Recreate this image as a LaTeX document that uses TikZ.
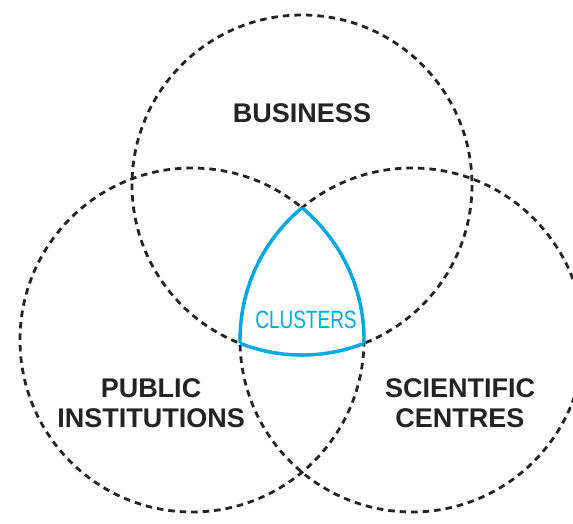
\documentclass[tikz,border=0pt]{standalone}
\usepackage{fontspec}
\setmainfont{Liberation Sans}
\newfontfamily\condfont[FakeStretch=0.76]{Liberation Sans}
\definecolor{clusterblue}{RGB}{0,170,230}
\definecolor{inkgrey}{RGB}{35,35,35}
\tikzset{
  vennline/.style={draw=inkgrey, line width=2.8pt, dash pattern=on 6.5pt off 5pt},
  clusterline/.style={draw=clusterblue, line width=3.4pt},
  biglabel/.style={font=\fontsize{27}{30}\selectfont\bfseries, text=inkgrey, align=center, anchor=base, inner sep=0pt},
  clusterlabel/.style={font=\condfont\fontsize{25}{27}\selectfont, text=clusterblue, anchor=base, inner sep=0pt}
}
\begin{document}
\begin{tikzpicture}[x=1pt,y=-1pt]
\useasboundingbox (0,0) rectangle (573,523);
\clip (0,0) rectangle (573,523);
\fill[white] (0,0) rectangle (573,523);
% circles
\coordinate (cT) at (302,185);
\coordinate (cL) at (192,340);
\coordinate (cR) at (412,340);
\draw[vennline] (cT) circle[radius=170];
\draw[vennline] (cL) circle[radius=172];
\draw[vennline] (cR) circle[radius=172];
% cluster region boundary
\begin{scope}
  \clip (cL) circle[radius=172];
  \clip (cR) circle[radius=172];
  \draw[clusterline] (cT) circle[radius=170];
\end{scope}
\begin{scope}
  \clip (cT) circle[radius=170];
  \clip (cR) circle[radius=172];
  \draw[clusterline] (cL) circle[radius=172];
\end{scope}
\begin{scope}
  \clip (cT) circle[radius=170];
  \clip (cL) circle[radius=172];
  \draw[clusterline] (cR) circle[radius=172];
\end{scope}
% labels
\node[biglabel] (business) at (302,122) {BUSINESS};
\node[biglabel] (public) at (151,427) {PUBLIC\\INSTITUTIONS};
\node[biglabel] (scientific) at (460,427) {SCIENTIFIC\\CENTRES};
\node[clusterlabel] (clusters) at (306,328) {CLUSTERS};
\end{tikzpicture}
\end{document}
